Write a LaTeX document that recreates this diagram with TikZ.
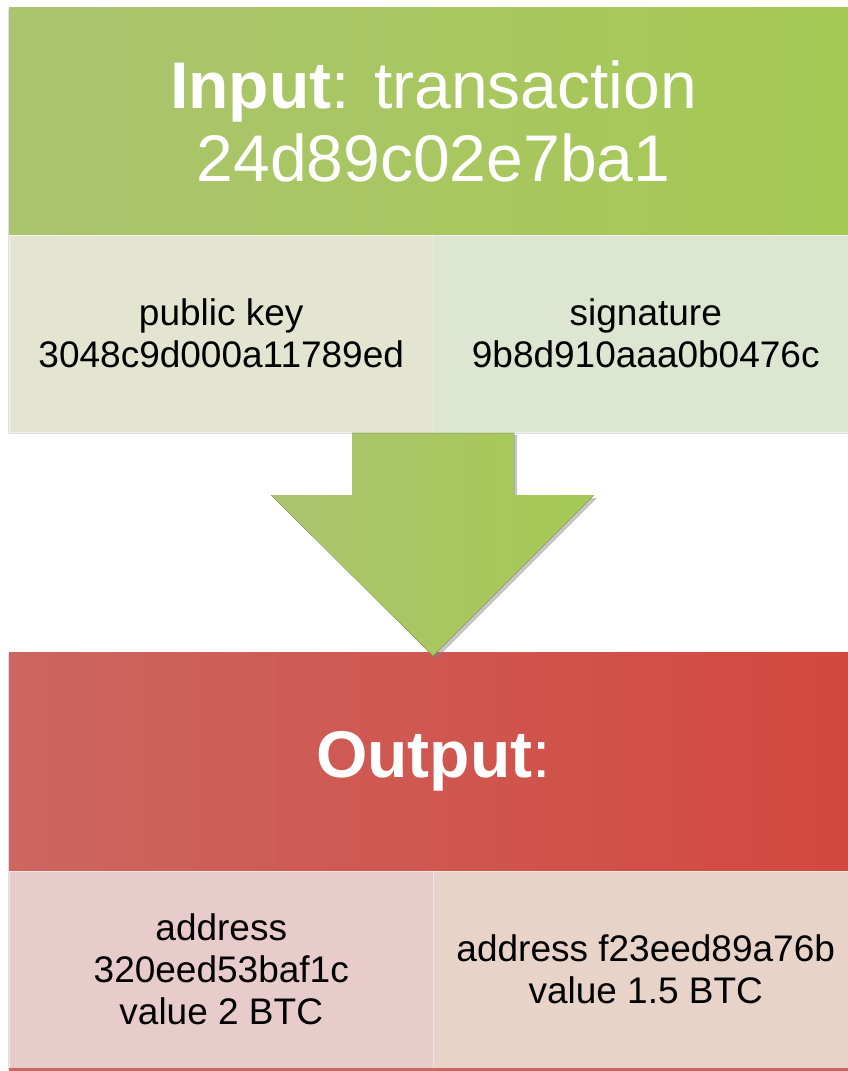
\documentclass[tikz,border=0pt]{standalone}
\usepackage{fontspec}
\setmainfont{Liberation Sans}
\usetikzlibrary{positioning,shadows}
\definecolor{inheadA}{HTML}{ABC46E}
\definecolor{inheadB}{HTML}{A5C954}
\definecolor{incellA}{HTML}{E4E5D1}
\definecolor{incellB}{HTML}{DDE6D0}
\definecolor{outheadA}{HTML}{CC6660}
\definecolor{outheadB}{HTML}{D2483E}
\definecolor{outcellA}{HTML}{E8CBCB}
\definecolor{outcellB}{HTML}{E8D3C8}
\tikzset{
  boxshadow/.style={drop shadow={shadow xshift=-1pt,shadow yshift=-2pt,opacity=.25,fill=gray}},
  headbox/.style={minimum width=849pt,minimum height=228pt,inner sep=0pt,outer sep=0pt,
    text=white,align=center,font=\fontsize{66}{73}\selectfont,boxshadow},
  cellbox/.style={minimum width=424.5pt,minimum height=197pt,inner sep=0pt,outer sep=0pt,
    align=center,font=\fontsize{37}{42}\selectfont,draw=white,draw opacity=.5,line width=.8pt,boxshadow}
}
\begin{document}
\begin{tikzpicture}[x=1pt,y=-1pt]
\useasboundingbox[fill=white] (0,0) rectangle (848,1071);
% input block
\node[headbox,left color=inheadA,middle color=inheadA,right color=inheadB,anchor=north west] (inhead) at (9,7)
  {\textbf{Input}: transaction\\24d89c02e7ba1};
% output block
\node[headbox,minimum height=219pt,left color=outheadA,middle color=outheadA,right color=outheadB,
  below right=417pt and 0pt of inhead.south west] (outhead) {\textbf{Output}:};
\node[cellbox,fill=outcellA,below right=0pt and 0pt of outhead.south west] (addrA)
  {address\\320eed53baf1c\\value 2 BTC};
\node[cellbox,fill=outcellB,right=0pt of addrA] (addrB)
  {address f23eed89a76b\\value 1.5 BTC};
\fill[outheadA] (addrA.south west) rectangle ++(849,10);
% arrow
\coordinate (tip) at (433,656);
\fill[left color=inheadA,right color=inheadB,
  drop shadow={shadow xshift=3pt,shadow yshift=-3pt,opacity=.45,fill=gray}]
  (352,432) -- (514,432) -- (514,495) -- (594,495) -- (tip) -- (271,495) -- (352,495) -- cycle;
% input cells
\node[cellbox,fill=incellA,below right=0pt and 0pt of inhead.south west] (pubkey)
  {public key\\3048c9d000a11789ed};
\node[cellbox,fill=incellB,right=0pt of pubkey] (sig)
  {signature\\9b8d910aaa0b0476c};
\end{tikzpicture}
\end{document}
